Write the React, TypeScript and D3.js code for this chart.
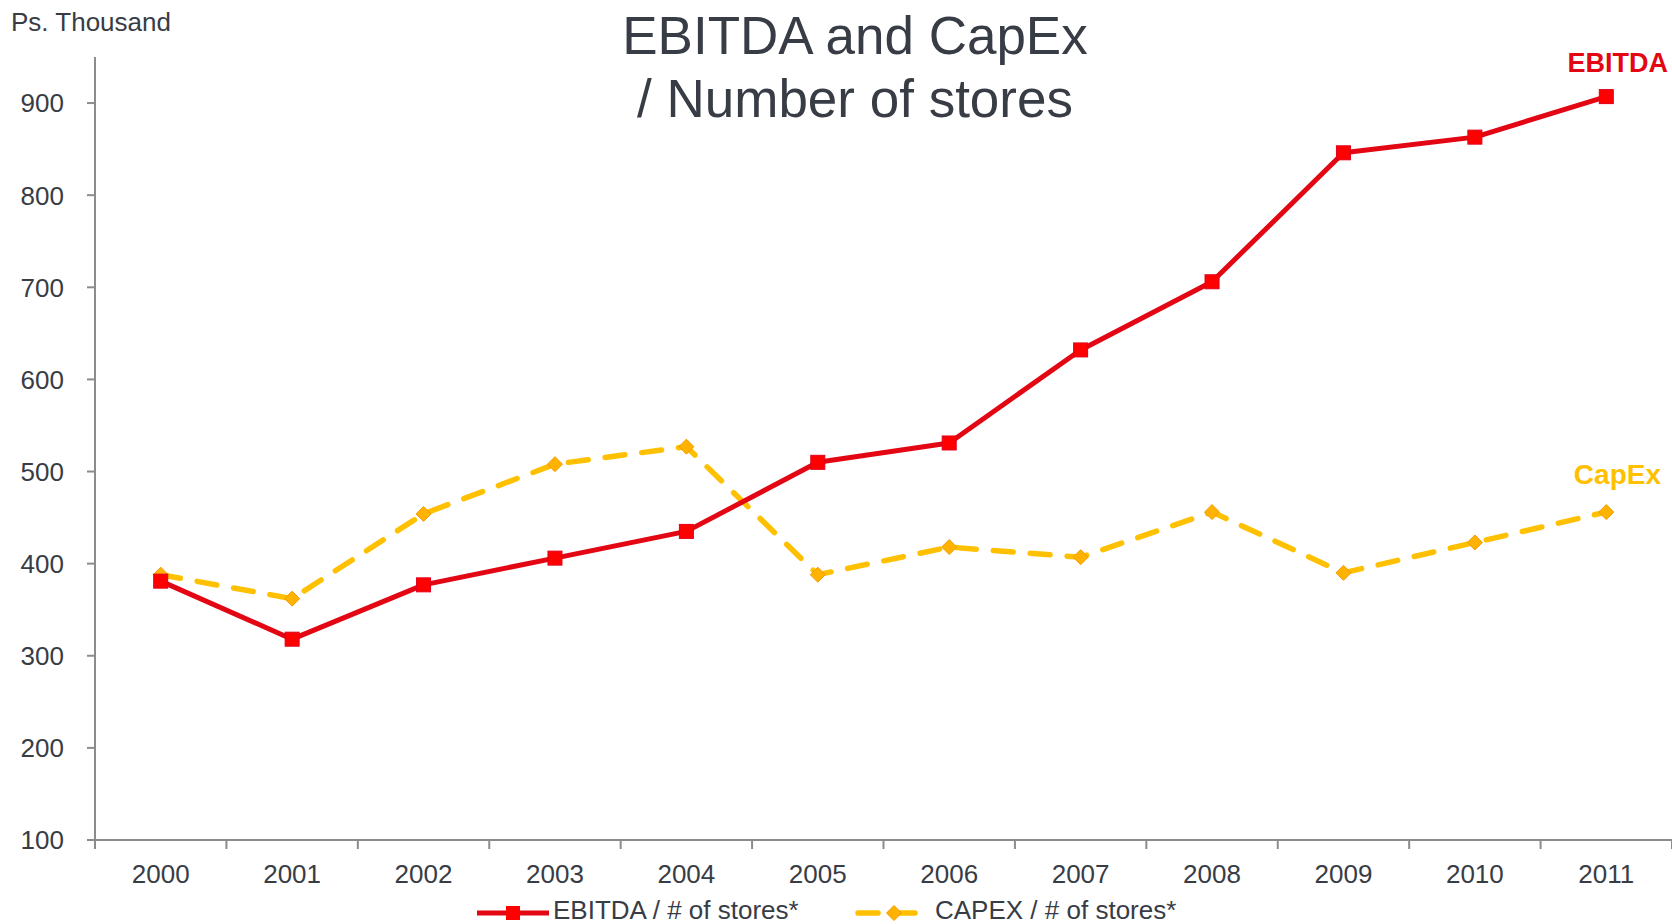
import React from "react";
import * as d3 from "d3";

const years = ["2000","2001","2002","2003","2004","2005","2006","2007","2008","2009","2010","2011"];
const ebitda = [381, 318, 377, 406, 435, 510, 531, 632, 706, 846, 863, 907];
const capex = [388, 362, 454, 508, 527, 388, 418, 407, 456, 390, 423, 456];
const yTicks = [100, 200, 300, 400, 500, 600, 700, 800, 900];
const titleLines = ["EBITDA and CapEx", "/ Number of stores"];
const legendLabels = ["EBITDA / # of stores*", "CAPEX / # of stores*"];

const W = 1672, H = 924;
const FONT = "'Liberation Sans', Arial, sans-serif";
const TEXT = "#383c45";
const AXIS = "#8c8c8c";
const RED = "#e30613";
const RED_MARK = "#ff0000";
const YEL = "#ffc000";
const ORANGE = "#ffb300";

export default function App() {
  const left = 95, right = W, top = 57, bottom = 840;
  const x = d3.scaleBand().domain(years).range([left, right]).padding(0);
  const y = d3.scaleLinear().domain([100, 950]).range([bottom, top]);
  const cx = (i: number) => (x(years[i]) as number) + x.bandwidth() / 2;
  const line = d3.line<number>().x((_, i) => cx(i)).y((d) => y(d));
  const bounds = [...years.map((yr) => x(yr) as number), right];
  const diamond = (px: number, py: number, r: number) =>
    `M${px},${py - r}L${px + r},${py}L${px},${py + r}L${px - r},${py}Z`;

  return (
    <div style={{ position: "absolute", left: 0, top: 0 }}>
      <svg width={W} height={H} style={{ display: "block", background: "#fff" }} fontFamily={FONT}>
        {/* title */}
        {titleLines.map((t, i) => (
          <text key={t} x={855} y={54 + i * 63} textAnchor="middle" fontSize={53} fill={TEXT}>{t}</text>
        ))}
        <text x={11} y={31} fontSize={26} fill={TEXT}>Ps. Thousand</text>

        {/* axes */}
        <line x1={left} x2={left} y1={top} y2={bottom} stroke={AXIS} strokeWidth={2} />
        <line x1={87} x2={right} y1={bottom} y2={bottom} stroke={AXIS} strokeWidth={2} />
        {yTicks.map((t) => (
          <g key={t}>
            <line x1={87} x2={left} y1={y(t)} y2={y(t)} stroke={AXIS} strokeWidth={2} />
            <text x={64} y={y(t)} dy="0.36em" textAnchor="end" fontSize={26} fill={TEXT}>{t}</text>
          </g>
        ))}
        {bounds.map((b, i) => (
          <line key={i} x1={b} x2={b} y1={bottom} y2={bottom + 9} stroke={AXIS} strokeWidth={2} />
        ))}
        {years.map((yr, i) => (
          <text key={yr} x={cx(i)} y={883} textAnchor="middle" fontSize={26} fill={TEXT}>{yr}</text>
        ))}

        {/* CapEx */}
        <path d={line(capex) as string} fill="none" stroke={YEL} strokeWidth={5.5}
          strokeDasharray="20 17" strokeLinecap="round" />
        {capex.map((v, i) => (
          <path key={i} d={diamond(cx(i), y(v), 7.5)} fill={ORANGE} stroke="#f29a00" strokeWidth={1} />
        ))}

        {/* EBITDA */}
        <path d={line(ebitda) as string} fill="none" stroke={RED} strokeWidth={5} strokeLinejoin="round" />
        {ebitda.map((v, i) => (
          <rect key={i} x={cx(i) - 7} y={y(v) - 7} width={14} height={14} fill={RED_MARK} stroke="#e0001a" strokeWidth={1} />
        ))}

        <text x={1668} y={72} textAnchor="end" fontSize={27} fontWeight="bold" fill={RED}>EBITDA</text>
        <text x={1661} y={484} textAnchor="end" fontSize={28} fontWeight="bold" fill={YEL}>CapEx</text>

        {/* legend */}
        <line x1={477} x2={549} y1={913} y2={913} stroke={RED} strokeWidth={5} />
        <rect x={506} y={906} width={14} height={14} fill={RED_MARK} />
        <text x={553} y={919} fontSize={26} fill={TEXT}>{legendLabels[0]}</text>
        <line x1={858} x2={917} y1={913} y2={913} stroke={YEL} strokeWidth={5.5} strokeDasharray="20 17" strokeLinecap="round" />
        <path d={diamond(894, 913, 7.5)} fill={ORANGE} stroke="#f29a00" strokeWidth={1} />
        <text x={935} y={919} fontSize={26} fill={TEXT}>{legendLabels[1]}</text>
      </svg>
    </div>
  );
}
